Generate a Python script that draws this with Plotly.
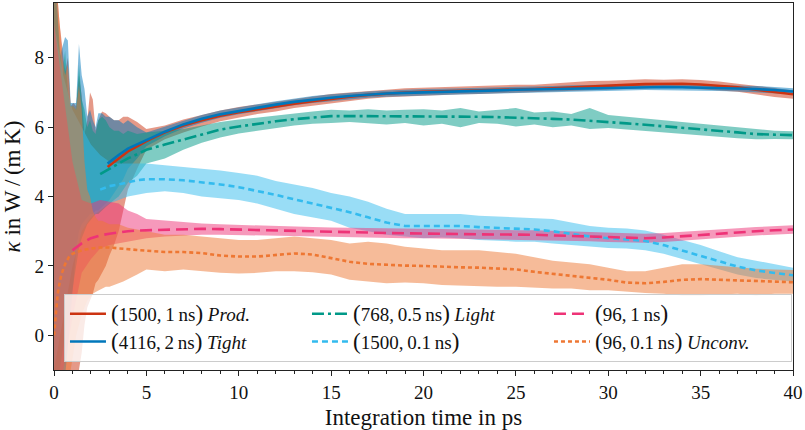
import plotly.graph_objects as go

# ---------------------------------------------------------------------------
# Thermal conductivity kappa(t) from Green-Kubo integration, six setups.
# Each setup: raw running integral shown as a translucent envelope (lo/hi),
# plus a smoothed running mean drawn as a line.
# ---------------------------------------------------------------------------

# time grids in ps
t_fine = [0, 0.15, 0.3, 0.45, 0.6, 0.75, 0.9, 1.05, 1.2, 1.35,
          1.5, 1.65, 1.8, 1.95, 2.1, 2.25, 2.4, 2.6, 2.8, 3.0,
          3.25, 3.5, 3.75, 4.0, 4.5]
t_coarse = [0, 0.5, 1.0, 1.5, 2.0, 2.5, 3.0, 3.5, 4.0, 4.5]
t_late = [5, 6, 7, 8, 9, 10, 11, 12, 13, 14, 15, 16, 17, 18, 19, 20,
          21, 22, 23, 24, 25, 26, 27, 28, 29, 30, 31, 32, 33, 34, 35,
          36, 37, 38, 39, 40]

# ---- (1500, 1 ns) Prod. ----
prod_lo_early = [-1.2, -1.2, -1.2, -1.2, -1.2, -1.2, -1.2, -1.2, -1.2, -1.0,
                 -0.5, 0.3, 0.8, 1.0, 1.2, 1.5, 1.6, 1.8, 2.0, 2.3,
                 2.6, 3.0, 3.6, 4.2, 4.8]
prod_hi_early = [10, 10, 9.0, 8.2, 7.6, 8.0, 6.6, 6.7, 6.6, 7.5,
                 6.9, 5.8, 6.2, 7.0, 6.8, 5.9, 6.2, 6.45, 6.4, 6.3,
                 6.2, 6.2, 6.3, 6.3, 6.15]
prod_lo = [5.35, 5.65, 5.85, 6.02, 6.17, 6.28, 6.38, 6.45, 6.55, 6.62,
           6.7, 6.76, 6.82, 6.86, 6.9, 6.92, 6.93, 6.95, 6.96, 6.98,
           6.99, 7.0, 7.02, 7.04, 7.07, 7.08, 7.1, 7.12, 7.14, 7.13,
           7.1, 7.06, 7.02, 6.95, 6.87, 6.82]
prod_hi = [5.95, 6.05, 6.22, 6.36, 6.48, 6.58, 6.66, 6.74, 6.82, 6.9,
           6.96, 7.0, 7.05, 7.08, 7.12, 7.14, 7.15, 7.17, 7.2, 7.2,
           7.22, 7.22, 7.26, 7.3, 7.33, 7.34, 7.36, 7.38, 7.37, 7.38,
           7.36, 7.32, 7.25, 7.2, 7.13, 7.06]
prod_t_early = [2.9, 3.5, 4.0, 4.5]
prod_mean_early = [4.85, 5.1, 5.3, 5.45]
prod_mean = [5.6, 5.85, 6.05, 6.2, 6.33, 6.43, 6.52, 6.6, 6.68, 6.75,
             6.82, 6.88, 6.93, 6.97, 7.0, 7.02, 7.03, 7.05, 7.07, 7.08,
             7.09, 7.1, 7.12, 7.15, 7.18, 7.2, 7.22, 7.24, 7.25, 7.25,
             7.23, 7.2, 7.15, 7.08, 7.01, 6.95]

# ---- (4116, 2 ns) Tight ----
tight_lo_early = [-1.2, -1.2, -1.2, -1.2, -1.2, -0.5, 0.5, 1.5, 2.5, 3.0,
                  3.2, 3.3, 3.4, 3.5, 3.5, 3.6, 3.6, 3.7, 3.8, 3.9,
                  4.1, 4.3, 4.5, 4.8, 5.1]
tight_hi_early = [10, 10, 8.0, 8.3, 8.6, 8.5, 6.7, 6.7, 6.7, 8.4,
                  7.5, 7.1, 6.3, 6.5, 6.2, 6.0, 6.4, 6.4, 6.3, 6.3,
                  6.2, 6.2, 6.1, 6.2, 6.0]
tight_lo = [5.45, 5.74, 5.96, 6.13, 6.27, 6.37, 6.46, 6.55, 6.63, 6.7,
            6.76, 6.8, 6.85, 6.88, 6.9, 6.91, 6.93, 6.94, 6.96, 6.97,
            6.99, 7.0, 7.01, 7.03, 7.04, 7.05, 7.06, 7.07, 7.07, 7.06,
            7.05, 7.04, 7.03, 7.01, 6.98, 6.95]
tight_hi = [5.85, 6.02, 6.2, 6.35, 6.48, 6.58, 6.66, 6.75, 6.83, 6.9,
            6.95, 7.0, 7.03, 7.06, 7.09, 7.1, 7.11, 7.12, 7.14, 7.15,
            7.17, 7.18, 7.19, 7.21, 7.22, 7.23, 7.24, 7.25, 7.25, 7.24,
            7.23, 7.22, 7.21, 7.19, 7.16, 7.12]
tight_t_early = [2.9, 3.5, 4.0, 4.5]
tight_mean_early = [4.95, 5.2, 5.38, 5.5]
tight_mean = [5.62, 5.87, 6.08, 6.24, 6.37, 6.47, 6.56, 6.65, 6.73, 6.8,
              6.85, 6.9, 6.94, 6.97, 6.99, 7.0, 7.02, 7.03, 7.05, 7.06,
              7.08, 7.09, 7.1, 7.12, 7.13, 7.14, 7.15, 7.16, 7.16, 7.15,
              7.14, 7.13, 7.12, 7.1, 7.07, 7.03]

# ---- (768, 0.5 ns) Light ----
light_lo_early = [-1.2, -1.2, -1.0, -0.5, 0.0, 0.5, 1.0, 1.5, 2.0, 2.5,
                  2.8, 3.0, 3.2, 3.3, 3.4, 3.5, 3.5, 3.6, 3.7, 3.8,
                  3.9, 4.0, 4.2, 4.4, 4.6]
light_hi_early = [10, 9.5, 8.4, 7.5, 8.2, 7.0, 6.6, 6.6, 6.5, 7.8,
                  6.8, 6.5, 6.0, 6.2, 5.9, 5.8, 6.2, 6.3, 6.2, 6.0,
                  5.9, 5.9, 5.8, 5.9, 5.8]
light_lo = [4.95, 5.1, 5.35, 5.55, 5.7, 5.82, 5.9, 5.98, 6.05, 6.1,
            6.12, 6.15, 6.12, 6.08, 6.12, 6.05, 6.1, 6.0, 6.12, 6.1,
            6.02, 6.08, 6.0, 6.05, 5.95, 5.98, 5.93, 5.88, 5.85, 5.8,
            5.75, 5.72, 5.68, 5.65, 5.66, 5.65]
light_hi = [5.85, 5.9, 5.95, 6.05, 6.15, 6.22, 6.28, 6.35, 6.4, 6.45,
            6.5, 6.48, 6.52, 6.48, 6.5, 6.52, 6.48, 6.55, 6.45, 6.5,
            6.55, 6.42, 6.45, 6.38, 6.55, 6.35, 6.3, 6.25, 6.22, 6.15,
            6.12, 6.05, 6.0, 5.95, 5.9, 5.88]
light_t_early = [2.5, 3.0, 3.5, 4.0, 4.5]
light_mean_early = [4.65, 4.8, 4.95, 5.1, 5.22]
light_mean = [5.35, 5.5, 5.65, 5.8, 5.93, 6.02, 6.1, 6.17, 6.23, 6.28,
              6.32, 6.32, 6.32, 6.31, 6.31, 6.3, 6.3, 6.3, 6.3, 6.29,
              6.28, 6.27, 6.24, 6.22, 6.19, 6.15, 6.11, 6.07, 6.03, 5.98,
              5.94, 5.9, 5.85, 5.8, 5.78, 5.77]

# ---- (1500, 0.1 ns) ----
short_lo_early = [-1.0, 0.5, 2.0, 3.0, 3.4, 3.6, 3.8, 3.9, 4.0, 4.05]
short_hi_early = [9.0, 7.5, 6.5, 6.0, 5.5, 5.2, 5.0, 4.95, 4.95, 4.95]
short_lo = [4.1, 4.15, 4.1, 4.0, 3.95, 3.9, 3.8, 3.65, 3.5, 3.4,
            3.3, 3.1, 3.0, 2.9, 2.85, 2.8, 2.82, 2.8, 2.75, 2.72,
            2.7, 2.7, 2.65, 2.6, 2.55, 2.52, 2.5, 2.45, 2.35, 2.2,
            2.05, 1.9, 1.75, 1.65, 1.6, 1.55]
short_hi = [4.95, 4.9, 4.85, 4.82, 4.75, 4.68, 4.6, 4.45, 4.35, 4.25,
            4.1, 4.0, 3.85, 3.65, 3.5, 3.5, 3.52, 3.5, 3.45, 3.42,
            3.4, 3.38, 3.35, 3.25, 3.15, 3.1, 3.08, 3.02, 2.9, 2.75,
            2.6, 2.42, 2.25, 2.15, 2.05, 1.95]
short_t_early = [2.5, 3.0, 3.5, 4.0, 4.5]
short_mean_early = [4.2, 4.3, 4.35, 4.42, 4.47]
short_mean = [4.5, 4.5, 4.47, 4.42, 4.35, 4.27, 4.17, 4.05, 3.92, 3.8,
              3.68, 3.55, 3.4, 3.25, 3.15, 3.15, 3.17, 3.15, 3.12, 3.1,
              3.08, 3.05, 3.0, 2.92, 2.85, 2.8, 2.76, 2.72, 2.6, 2.45,
              2.3, 2.13, 1.98, 1.87, 1.8, 1.73]

# ---- (96, 1 ns) ----
small_lo_early = [-1.2, -1.0, 0.5, 1.8, 2.2, 2.5, 2.6, 2.65, 2.7, 2.75]
small_hi_early = [9.0, 7.0, 5.0, 3.9, 3.8, 3.9, 3.85, 3.8, 3.6, 3.5]
small_lo = [2.8, 2.85, 2.88, 2.9, 2.9, 2.9, 2.9, 2.88, 2.87, 2.86,
            2.85, 2.83, 2.82, 2.81, 2.8, 2.8, 2.79, 2.78, 2.77, 2.77,
            2.76, 2.76, 2.74, 2.72, 2.71, 2.69, 2.67, 2.67, 2.69, 2.73,
            2.77, 2.8, 2.84, 2.88, 2.91, 2.93]
small_hi = [3.35, 3.3, 3.25, 3.22, 3.2, 3.18, 3.17, 3.15, 3.13, 3.12,
            3.11, 3.1, 3.09, 3.08, 3.07, 3.07, 3.06, 3.05, 3.04, 3.04,
            3.03, 3.03, 3.01, 2.99, 2.97, 2.95, 2.93, 2.93, 2.95, 2.99,
            3.03, 3.06, 3.09, 3.12, 3.15, 3.17]
small_t_early = [1.0, 1.5, 2.0, 2.5, 3.0, 3.5, 4.0, 4.5]
small_mean_early = [2.45, 2.65, 2.8, 2.88, 2.93, 2.97, 3.0, 3.02]
small_mean = [3.03, 3.05, 3.06, 3.07, 3.06, 3.05, 3.04, 3.02, 3.01, 3.0,
              2.99, 2.97, 2.96, 2.95, 2.94, 2.94, 2.93, 2.92, 2.91, 2.91,
              2.9, 2.9, 2.88, 2.86, 2.84, 2.82, 2.8, 2.8, 2.82, 2.86,
              2.9, 2.93, 2.96, 3.0, 3.03, 3.05]

# ---- (96, 0.1 ns) Unconv. ----
unconv_lo_early = [-1.2, -1.2, -1.2, -1.2, -1.2, -1.2, -1.0, -0.5, 0.0, 0.3,
                   0.6, 0.8, 1.0, 1.1, 1.2, 1.25, 1.3, 1.35, 1.4, 1.4,
                   1.45, 1.5, 1.55, 1.6, 1.75]
unconv_hi_early = [10, 10, 9.0, 8.0, 7.5, 7.8, 6.6, 6.6, 6.5, 7.2,
                   6.5, 5.0, 4.2, 4.0, 3.6, 3.4, 3.3, 3.3, 3.25, 3.2,
                   3.2, 3.2, 3.15, 3.1, 3.05]
unconv_lo = [1.9, 1.85, 1.9, 1.85, 1.8, 1.78, 1.8, 1.85, 1.85, 1.82,
             1.75, 1.6, 1.55, 1.5, 1.52, 1.5, 1.45, 1.45, 1.42, 1.4,
             1.4, 1.38, 1.35, 1.35, 1.3, 1.3, 1.25, 1.22, 1.2, 1.15,
             1.15, 1.18, 1.2, 1.15, 1.2, 1.2]
unconv_hi = [3.0, 2.9, 2.9, 2.85, 2.8, 2.75, 2.75, 2.8, 2.85, 2.8,
             2.75, 2.65, 2.7, 2.65, 2.55, 2.5, 2.45, 2.45, 2.45, 2.4,
             2.35, 2.25, 2.15, 2.1, 2.05, 1.95, 1.85, 1.85, 1.95, 2.05,
             2.05, 2.0, 1.95, 1.92, 1.9, 1.88]
unconv_t_early = [0, 0.1, 0.2, 0.3, 0.4, 0.6, 0.8, 1.0, 1.5, 2.0, 2.5,
                  3.0, 3.5, 4.0, 4.5]
unconv_mean_early = [0.0, 0.7, 1.2, 1.5, 1.75, 2.05, 2.25, 2.35, 2.45, 2.5,
                     2.53, 2.53, 2.5, 2.48, 2.46]
unconv_mean = [2.44, 2.4, 2.4, 2.37, 2.3, 2.27, 2.27, 2.32, 2.36, 2.33,
               2.22, 2.12, 2.06, 2.03, 2.01, 2.0, 1.97, 1.96, 1.95, 1.93,
               1.9, 1.83, 1.77, 1.72, 1.67, 1.6, 1.52, 1.5, 1.54, 1.6,
               1.62, 1.6, 1.57, 1.55, 1.54, 1.53]


def label(n_atoms, length, tag=""):
    """Legend text '(N, L ns) Tag' with slightly taller brackets."""
    big = '<span style="font-size:23px">{}</span>'
    text = big.format("(") + f"{n_atoms},\u2009{length}\u2009ns" + big.format(")")
    return text + (f" <i>{tag}</i>" if tag else "")


SERIES = [
    # legend text, colour, dash, legend slot, band (t, lo, hi), line (t, mean)
    (label(1500, 1, "Prod."), "#CC3311", "solid", 1,
     t_fine + t_late, prod_lo_early + prod_lo, prod_hi_early + prod_hi,
     prod_t_early + t_late, prod_mean_early + prod_mean),
    (label(4116, 2, "Tight"), "#0077BB", "solid", 4,
     t_fine + t_late, tight_lo_early + tight_lo, tight_hi_early + tight_hi,
     tight_t_early + t_late, tight_mean_early + tight_mean),
    (label(768, 0.5, "Light"), "#009988", "12px,4px,3px,4px", 2,
     t_fine + t_late, light_lo_early + light_lo, light_hi_early + light_hi,
     light_t_early + t_late, light_mean_early + light_mean),
    (label(1500, 0.1), "#33BBEE", "6px,4px", 5,
     t_coarse + t_late, short_lo_early + short_lo, short_hi_early + short_hi,
     short_t_early + t_late, short_mean_early + short_mean),
    (label(96, 1), "#EE3377", "12px,6px", 3,
     t_coarse + t_late, small_lo_early + small_lo, small_hi_early + small_hi,
     small_t_early + t_late, small_mean_early + small_mean),
    (label(96, 0.1, "Unconv."), "#EE7733", "4px,3px", 6,
     t_fine + t_late, unconv_lo_early + unconv_lo, unconv_hi_early + unconv_hi,
     unconv_t_early + t_late, unconv_mean_early + unconv_mean),
]


def rgba(hex_colour, alpha):
    h = hex_colour.lstrip("#")
    r, g, b = int(h[0:2], 16), int(h[2:4], 16), int(h[4:6], 16)
    return f"rgba({r},{g},{b},{alpha})"


fig = go.Figure()

# envelopes of the raw running integrals, in legend order
for name, colour, dash, rank, bt, lo, hi, lt, mean in SERIES:
    fig.add_trace(go.Scatter(
        x=bt + bt[::-1], y=hi + lo[::-1],
        mode="lines", fill="toself", fillcolor=rgba(colour, 0.5),
        line=dict(width=0), hoverinfo="skip", showlegend=False,
    ))

# smoothed running means on top
for name, colour, dash, rank, bt, lo, hi, lt, mean in SERIES:
    fig.add_trace(go.Scatter(
        x=lt, y=mean, mode="lines", name=name, legendrank=rank,
        line=dict(color=colour, width=2.6, dash=dash),
    ))

FONT = "Liberation Serif, DejaVu Serif, serif"
AX = "#222222"

fig.update_layout(
    width=805, height=430,
    margin=dict(l=54, r=8, t=2, b=60),
    paper_bgcolor="white", plot_bgcolor="white",
    font=dict(family=FONT, size=19, color="#111111"),
    xaxis=dict(
        range=[0, 40], tickvals=[0, 5, 10, 15, 20, 25, 30, 35, 40],
        ticks="outside", ticklen=5, tickwidth=1, tickcolor=AX,
        ticklabeloverflow="allow",
        minor=dict(dtick=1, ticks="outside", ticklen=3, tickcolor=AX),
        showline=True, linecolor=AX, linewidth=1.2, mirror=True,
        showgrid=False, zeroline=False,
        title=dict(text="Integration time in ps", standoff=6),
    ),
    yaxis=dict(
        range=[-1.0, 9.58], tickvals=[0, 2, 4, 6, 8],
        ticks="outside", ticklen=5, tickwidth=1, tickcolor=AX,
        showline=True, linecolor=AX, linewidth=1.2, mirror=True,
        showgrid=False, zeroline=False,
        title=dict(text="<i>κ</i> in W\u2009/\u2009(m\u2009K)", standoff=10),
    ),
    legend=dict(
        orientation="h", x=0.0135, y=0.022, xanchor="left", yanchor="bottom",
        entrywidth=191, entrywidthmode="pixels", itemwidth=36,
        bgcolor="rgba(255,255,255,0.8)", bordercolor="#cccccc", borderwidth=1,
        font=dict(family=FONT, size=19), traceorder="normal",
    ),
)

fig.write_html("out.html")
